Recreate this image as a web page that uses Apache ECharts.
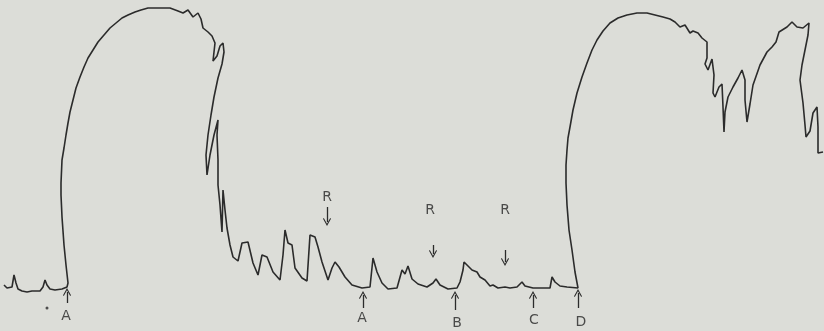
<!DOCTYPE html>
<html>
<head>
<meta charset="utf-8">
<script src="https://cdn.jsdelivr.net/npm/echarts@6/dist/echarts.min.js"></script>
<style>
html,body{margin:0;padding:0;background:#dcddd8;}
#c{width:824px;height:331px;}
</style>
</head>
<body>
<div id="c"></div>
<script>
// Recorder trace (x position, signal height)
var traceX = [4,7,9,12,14,16,18,22,27,32,40,43,45,47,50,55,62,67,
  68,66,64,62,61,61,62,64,66,68,70,73,76,80,84,88,93,98,104,110,116,122,128,135,141,148,155,162,170,
  178,183,188,193,198,201,203,208,212,215,213,217,220,223,224,222,218,214,211,208,206,207,210,214,218,217,218,218,220,222,223,225,227,230,233,238,242,248,253,258,262,267,273,280,283,285,288,292,295,302,307,310,315,318,322,328,332,335,339,345,352,362,370,373,377,382,388,397,402,405,408,412,418,427,433,436,440,448,457,460,463,464,468,472,477,480,485,490,493,498,505,510,517,522,525,533,543,550,552,555,560,567,578,
  575,572,569,567,566,566,567,568,570,573,577,582,587,592,597,603,610,618,627,637,647,655,663,670,675,680,685,690,693,698,702,707,707,705,708,712,714,714,713,715,719,722,723,724,725,728,733,738,742,745,745,747,750,753,760,767,772,776,779,787,792,797,803,809,808,805,802,800,803,805,806,810,813,817,818,818,823];
var traceY = [46,43,42,44,56,48,42,40,39,40,40,44,51,46,42,41,42,44,
  48,66,86,114,136,148,171,183,196,208,219,231,243,254,264,273,281,289,296,303,308,313,316,319,321,323,323,323,323,
  320,318,321,314,318,312,303,299,295,288,270,275,285,288,279,267,253,234,216,196,176,156,176,196,211,196,171,146,126,99,141,121,103,86,74,70,88,89,68,56,76,74,59,51,76,101,88,86,63,53,50,96,94,84,69,51,63,69,64,54,46,43,44,73,59,48,42,43,61,57,65,52,47,44,48,52,46,42,43,49,61,69,65,61,59,54,51,45,46,43,44,43,44,49,45,43,43,43,54,49,45,44,43,
  59,81,101,126,148,166,181,193,204,221,238,254,268,281,291,300,308,313,316,318,318,316,314,312,309,304,306,298,300,298,293,289,273,267,261,272,271,256,238,234,244,247,224,199,219,234,244,253,261,251,231,209,227,246,266,279,284,289,299,304,309,304,303,308,296,281,266,251,228,206,194,200,218,224,204,178,179];

// Annotation arrows: x position, tail height, tip height
var arrowX    = [67, 363, 455, 533, 578, 327, 433, 505];
var arrowFrom = [28, 23, 21, 23, 23, 124, 86, 81];
var arrowTo   = [39, 36, 36, 36, 38, 109, 77, 69];

// Annotation letters
var labelText = ['A', 'R', 'A', 'R', 'B', 'R', 'C', 'D'];
var labelX    = [66, 327, 362, 430, 457, 505, 534, 581];
var labelY    = [15, 134, 13, 121, 8, 121, 11, 9];

// Stray dot
var dotX = [47];
var dotY = [23];

var ink = '#2b2b2b';
var traceData = traceX.map(function (x, i) { return [x, traceY[i]]; });
var arrowData = arrowX.map(function (x, i) {
  return [{coord: [x, arrowFrom[i]]}, {coord: [x, arrowTo[i]]}];
});
var labelData = labelX.map(function (x, i) { return {name: labelText[i], value: [x, labelY[i]]}; });
var dotData = dotX.map(function (x, i) { return [x, dotY[i]]; });

var chart = echarts.init(document.getElementById('c'), null, {renderer: 'canvas'});
chart.setOption({
  backgroundColor: '#dcddd8',
  animation: false,
  grid: {left: 0, right: 0, top: 0, bottom: 0},
  xAxis: {type: 'value', min: 0, max: 824, show: false},
  yAxis: {type: 'value', min: 0, max: 331, show: false},
  series: [
    {
      type: 'line',
      data: traceData,
      showSymbol: false,
      smooth: false,
      lineStyle: {color: ink, width: 1.6},
      markLine: {
        silent: true,
        symbol: ['none', 'path://M0,10 L5,0 L10,10 L9,11 L5,3 L1,11 Z'],
        symbolSize: 8,
        label: {show: false},
        lineStyle: {color: ink, width: 1.3, type: 'solid'},
        data: arrowData
      }
    },
    {
      type: 'scatter',
      data: labelData,
      symbolSize: 0,
      silent: true,
      label: {
        show: true,
        position: 'inside',
        formatter: '{b}',
        color: '#262626',
        fontFamily: 'DejaVu Sans',
        fontSize: 14
      }
    },
    {
      type: 'scatter',
      data: dotData,
      symbol: 'circle',
      symbolSize: 3,
      itemStyle: {color: ink},
      silent: true
    }
  ]
});
</script>
</body>
</html>
